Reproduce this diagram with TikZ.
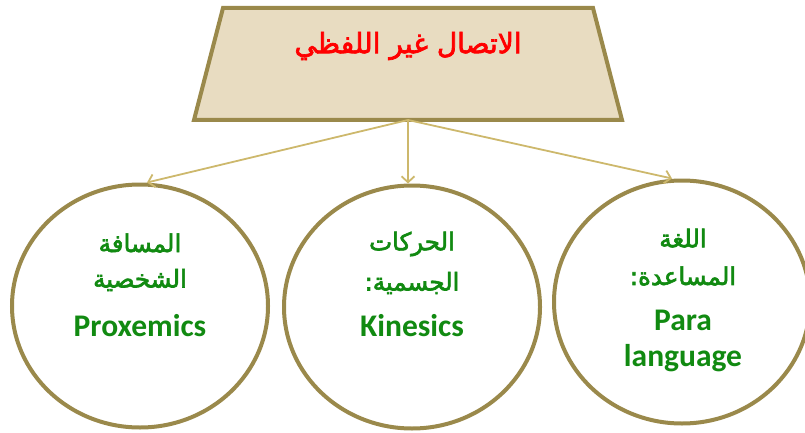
\documentclass[tikz,border=0pt]{standalone}
\usepackage{fontspec}
\usetikzlibrary{shapes.geometric,arrows.meta}
\setmainfont{Carlito}
\newfontfamily\arabicfont[Script=Arabic, FakeBold=2.5]{DejaVu Sans}
\TeXXeTstate=1
\definecolor{frame}{HTML}{9A894B}
\definecolor{parch}{HTML}{E8DCC1}
\definecolor{arrowcol}{HTML}{CDB86C}
\definecolor{leafgreen}{HTML}{118A11}
\definecolor{titlered}{HTML}{FF0000}
\tikzset{
  topicbox/.style={draw=frame, line width=4pt, fill=parch, line join=miter},
  bubble/.style={ellipse, draw=frame, line width=4pt, fill=white,
    minimum width=256pt, minimum height=243pt, inner sep=0pt},
  link/.style={draw=arrowcol, line width=1.8pt,
    -{Straight Barb[length=6pt,width=13pt,line width=1.8pt]}},
  artext/.style={font=\arabicfont\fontsize{24.5}{26}\selectfont, text=leafgreen},
  latext/.style={font=\bfseries\fontsize{31.5}{33}\selectfont, text=leafgreen}
}
\begin{document}
\begin{tikzpicture}[x=1pt,y=-1pt]
  \useasboundingbox (0,0) rectangle (805,433);
  \begin{scope}
  \clip (0,0) rectangle (805,433);
  % heading trapezium
  \draw[topicbox] (223,8) -- (593,8) -- (622,120) -- (194,120) -- cycle;
  \node[font=\arabicfont\fontsize{28}{30}\selectfont, text=titlered]
    (title) at (408,46) {\beginR الاتصال غير اللفظي\endR};
  \coordinate (hub) at (408,120);

  % the three branches
  \node[bubble] (prox) at (140,306) {};
  \node[bubble] (kin)  at (412,307) {};
  \node[bubble] (para) at (682,302) {};

  \node[artext] (p1) at (140,243) {\beginR المسافة\endR};
  \node[artext] (p2) at (140,280) {\beginR الشخصية\endR};
  \node[latext] (p3) at (140,326) {Proxemics};

  \node[artext] (k1) at (412,244) {\beginR الحركات\endR};
  \node[artext] (k2) at (412,283) {\beginR الجسمية:\endR};
  \node[latext] (k3) at (412,326) {Kinesics};

  \node[artext] (a1) at (683,238) {\beginR اللغة\endR};
  \node[artext] (a2) at (683,276) {\beginR المساعدة:\endR};
  \node[latext] (a3) at (683,320) {Para};
  \node[latext] (a4) at (683,358) {language};

  % connectors
  \draw[link] (hub) -- ([xshift=7pt]prox.north);
  \draw[link] (hub) -- ([xshift=-4pt]kin.north);
  \draw[link] (hub) -- ([xshift=-10pt]para.north);
  \end{scope}
\end{tikzpicture}
\end{document}
